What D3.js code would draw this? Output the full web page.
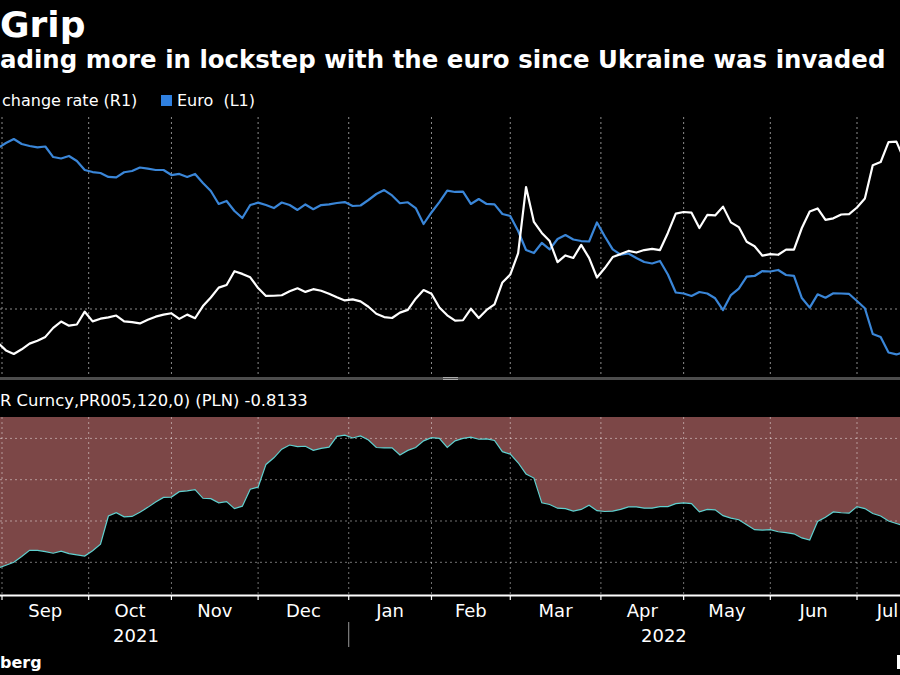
<!DOCTYPE html>
<html><head><meta charset="utf-8">
<script src="https://cdn.jsdelivr.net/npm/d3@7/dist/d3.min.js"></script>
<style>html,body{margin:0;padding:0;background:#000;overflow:hidden;} svg{display:block;}</style>
</head><body>
<svg id="chart" width="900" height="675"></svg>
<script>
// ---- data (every second trading day, from 2021-08-31 to 2022-07-19) ----
const firstDate = "2021-08-31";
const lastDate = "2022-07-19";
const euro = [1.1833,1.1875,1.1908,1.1867,1.1850,1.1838,1.1846,1.1758,1.1746,1.1767,
1.1725,1.1650,1.1633,1.1625,1.1592,1.1588,1.1631,1.1642,1.1671,1.1661,
1.1650,1.1650,1.1608,1.1617,1.1592,1.1617,1.1542,1.1475,1.1367,1.1392,
1.1308,1.1250,1.1358,1.1378,1.1358,1.1333,1.1379,1.1358,1.1317,1.1363,
1.1323,1.1358,1.1364,1.1375,1.1383,1.1350,1.1354,1.1400,1.1450,1.1483,
1.1438,1.1373,1.1381,1.1333,1.1200,1.1296,1.1383,1.1478,1.1467,1.1469,
1.1367,1.1408,1.1367,1.1364,1.1283,1.1267,1.1142,1.0983,1.0958,1.1042,
1.0988,1.1075,1.1108,1.1071,1.1058,1.1054,1.1213,1.1096,1.0988,1.0945,
1.0954,1.0917,1.0883,1.0871,1.0892,1.0779,1.0629,1.0621,1.0600,1.0633,
1.0621,1.0581,1.0483,1.0608,1.0661,1.0761,1.0767,1.0808,1.0804,1.0817,
1.0775,1.0767,1.0583,1.0503,1.0614,1.0586,1.0623,1.0621,1.0617,1.0558,
1.0498,1.0283,1.0258,1.0129,1.0113,1.0133];
const exchangeRate = [3.849,3.816,3.800,3.821,3.846,3.859,3.876,3.916,3.944,3.926,
3.931,3.988,3.945,3.957,3.963,3.971,3.945,3.942,3.936,3.952,
3.966,3.975,3.981,3.956,3.975,3.959,4.013,4.051,4.095,4.107,
4.168,4.156,4.141,4.093,4.058,4.059,4.061,4.079,4.092,4.076,
4.088,4.081,4.068,4.052,4.038,4.043,4.034,4.010,3.979,3.964,
3.960,3.984,3.996,4.046,4.084,4.068,4.007,3.972,3.948,3.950,
4.001,3.960,3.996,4.021,4.118,4.153,4.248,4.542,4.387,4.338,
4.302,4.208,4.238,4.227,4.285,4.227,4.140,4.182,4.231,4.244,
4.258,4.251,4.262,4.267,4.262,4.338,4.424,4.431,4.428,4.360,
4.418,4.416,4.455,4.385,4.364,4.299,4.279,4.237,4.244,4.241,
4.264,4.264,4.360,4.433,4.447,4.396,4.403,4.420,4.422,4.451,
4.491,4.639,4.653,4.742,4.744,4.662];
const correlation = [-0.914,-0.907,-0.900,-0.886,-0.871,-0.871,-0.874,-0.878,-0.873,-0.879,
-0.882,-0.885,-0.872,-0.856,-0.788,-0.780,-0.790,-0.789,-0.779,-0.767,
-0.754,-0.743,-0.742,-0.729,-0.727,-0.724,-0.745,-0.746,-0.756,-0.753,
-0.770,-0.764,-0.723,-0.718,-0.663,-0.647,-0.626,-0.616,-0.620,-0.619,
-0.629,-0.624,-0.621,-0.595,-0.592,-0.599,-0.594,-0.604,-0.622,-0.623,
-0.623,-0.640,-0.629,-0.622,-0.606,-0.598,-0.600,-0.622,-0.606,-0.600,
-0.597,-0.602,-0.601,-0.605,-0.632,-0.638,-0.659,-0.686,-0.696,-0.756,
-0.760,-0.769,-0.770,-0.776,-0.772,-0.762,-0.775,-0.777,-0.776,-0.772,
-0.766,-0.766,-0.769,-0.769,-0.765,-0.765,-0.758,-0.756,-0.758,-0.778,
-0.772,-0.773,-0.787,-0.793,-0.797,-0.809,-0.821,-0.822,-0.821,-0.826,
-0.828,-0.831,-0.841,-0.846,-0.801,-0.791,-0.778,-0.780,-0.781,-0.765,
-0.770,-0.782,-0.788,-0.800,-0.806,-0.812];
const yearLabels = ["2021", "2022"];
const corrGridValues = [-0.6, -0.7, -0.8, -0.9];
const rateGridValues = [4.0];
const titleText = "Grip";
const subtitleText = "ading more in lockstep with the euro since Ukraine was invaded";
const legendRate = "change rate (R1)";
const legendEuro = "Euro\u00a0\u00a0(L1)";
const corrLabel = "R Curncy,PR005,120,0) (PLN) -0.8133";
const sourceText = "berg";

// ---- scales ----
const parse = d3.timeParse("%Y-%m-%d");
const isWeekday = d => d.getDay() !== 0 && d.getDay() !== 6;
const origin = new Date(2021, 8, 1);
function bizIndex(d) {
  return d >= origin ? d3.timeDays(origin, d).filter(isWeekday).length
                     : -d3.timeDays(d, origin).filter(isWeekday).length;
}
const dates = d3.timeDays(parse(firstDate), d3.timeDay.offset(parse(lastDate), 1))
  .filter(isWeekday).filter((d, i) => i % 2 === 0);
const rows = dates.map((d, i) => ({date: d, eur: euro[i], rate: exchangeRate[i], corr: correlation[i]}));

const x = d3.scaleLinear().domain([0, bizIndex(new Date(2022, 6, 1))]).range([2, 857]);
const X = d => x(bizIndex(d));
const yL = d3.scaleLinear().domain([1.00, 1.20]).range([368, 128]);
const yR = d3.scaleLinear().domain([3.80, 4.80]).range([354, 129]);
const yC = d3.scaleLinear().domain([-0.9, -0.6]).range([562.3, 438.4]);

const svg = d3.select("#chart");
const W = 900;
svg.append("rect").attr("width", W).attr("height", 675).attr("fill", "#000");

const font = "'DejaVu Sans', Verdana, sans-serif";
const defs = svg.append("defs");
defs.append("clipPath").attr("id", "clipTop").append("rect").attr("x", 0).attr("y", 117).attr("width", W).attr("height", 260);
defs.append("clipPath").attr("id", "clipBot").append("rect").attr("x", 0).attr("y", 417).attr("width", W).attr("height", 178);

// ---- titles ----
svg.append("text").attr("x", 0).attr("y", 37).attr("fill", "#fff")
  .attr("font-family", font).attr("font-weight", "bold").attr("font-size", 36).text(titleText);
const sub = svg.append("text").attr("x", 0).attr("y", 68).attr("fill", "#fff")
  .attr("font-family", font).attr("font-weight", "bold").attr("font-size", 24).text(subtitleText);
const subW = sub.node().getComputedTextLength();
sub.attr("font-size", 24 * 886 / subW);

// legend
svg.append("text").attr("x", 2).attr("y", 106).attr("fill", "#fff").attr("font-family", font)
  .attr("font-size", 16).text(legendRate);
svg.append("rect").attr("x", 161).attr("y", 95).attr("width", 11).attr("height", 11).attr("fill", "#2f80e0");
svg.append("text").attr("x", 177).attr("y", 106).attr("fill", "#fff").attr("font-family", font)
  .attr("font-size", 16).text(legendEuro);

// ---- month grid ----
const months = d3.timeMonth.range(new Date(2021, 8, 1), new Date(2022, 7, 2));
const gridColor = "#8c8c8c";
const topG = svg.append("g");
topG.selectAll("line.v").data(months).join("line")
  .attr("x1", d => X(d)).attr("x2", d => X(d)).attr("y1", 117).attr("y2", 376)
  .attr("stroke", gridColor).attr("stroke-width", 1).attr("stroke-dasharray", "2,3");
topG.selectAll("line.h").data(rateGridValues).join("line")
  .attr("x1", 0).attr("x2", W).attr("y1", d => yR(d)).attr("y2", d => yR(d))
  .attr("stroke", gridColor).attr("stroke-width", 1).attr("stroke-dasharray", "2,3");

const lineTop = svg.append("g").attr("clip-path", "url(#clipTop)");
lineTop.append("path").datum(rows)
  .attr("d", d3.line().x(d => X(d.date)).y(d => yL(d.eur)))
  .attr("fill", "none").attr("stroke", "#3a86d8").attr("stroke-width", 2.2).attr("stroke-linejoin", "round");
lineTop.append("path").datum(rows)
  .attr("d", d3.line().x(d => X(d.date)).y(d => yR(d.rate)))
  .attr("fill", "none").attr("stroke", "#ffffff").attr("stroke-width", 2.2).attr("stroke-linejoin", "round");

// separator
svg.append("rect").attr("x", 0).attr("y", 377).attr("width", W).attr("height", 3).attr("fill", "#4d4d4d");
svg.append("line").attr("x1", 443).attr("x2", 458).attr("y1", 377.5).attr("y2", 377.5).attr("stroke", "#aaa").attr("stroke-width", 1);
svg.append("line").attr("x1", 443).attr("x2", 458).attr("y1", 379.5).attr("y2", 379.5).attr("stroke", "#aaa").attr("stroke-width", 1);

// ---- correlation panel ----
const cl = svg.append("text").attr("x", 0).attr("y", 406).attr("fill", "#fff").attr("font-family", font)
  .attr("font-size", 16).text(corrLabel);
const clW = cl.node().getComputedTextLength();
cl.attr("font-size", 16 * 308 / clW);

const bot = svg.append("g").attr("clip-path", "url(#clipBot)");
bot.append("path").datum(rows)
  .attr("d", d3.area().x(d => X(d.date)).y0(417).y1(d => yC(d.corr)))
  .attr("fill", "#7c4747");
bot.selectAll("line.v").data(months).join("line")
  .attr("x1", d => X(d)).attr("x2", d => X(d)).attr("y1", 417).attr("y2", 595)
  .attr("stroke", "rgba(255,255,255,0.45)").attr("stroke-width", 1).attr("stroke-dasharray", "2,3");
bot.selectAll("line.h").data(corrGridValues).join("line")
  .attr("x1", 0).attr("x2", W).attr("y1", d => yC(d)).attr("y2", d => yC(d))
  .attr("stroke", "rgba(255,255,255,0.45)").attr("stroke-width", 1).attr("stroke-dasharray", "2,3");
bot.append("path").datum(rows)
  .attr("d", d3.line().x(d => X(d.date)).y(d => yC(d.corr)))
  .attr("fill", "none").attr("stroke", "#5fd0cf").attr("stroke-width", 1.2);

// ---- x axis ----
svg.append("line").attr("x1", 0).attr("x2", W).attr("y1", 595.5).attr("y2", 595.5).attr("stroke", "#fff").attr("stroke-width", 2);
svg.selectAll("line.tick").data(months).join("line")
  .attr("x1", d => X(d)).attr("x2", d => X(d)).attr("y1", 595).attr("y2", 600)
  .attr("stroke", "#fff").attr("stroke-width", 1.2);
const fmt = d3.timeFormat("%b");
const monthLabelX = (d, i) => Math.min((X(d) + X(months[i + 1])) / 2, W - 1);
svg.selectAll("text.month").data(months.slice(0, -1)).join("text")
  .attr("x", monthLabelX).attr("y", 617)
  .attr("text-anchor", (d, i) => (X(d) + X(months[i + 1])) / 2 > W - 20 ? "end" : "middle")
  .attr("fill", "#fff").attr("font-family", font).attr("font-size", 18)
  .text(d => fmt(d));
const yearPos = [X(new Date(2021, 9, 19)), X(new Date(2022, 3, 25))];
svg.selectAll("text.year").data(yearLabels).join("text")
  .attr("x", (d, i) => yearPos[i]).attr("y", 642)
  .attr("text-anchor", "middle").attr("fill", "#fff").attr("font-family", font).attr("font-size", 18)
  .text(d => d);
const jan = X(new Date(2022, 0, 1));
svg.append("line").attr("x1", jan).attr("x2", jan).attr("y1", 622).attr("y2", 647).attr("stroke", "#999").attr("stroke-width", 1);

// footer
svg.append("text").attr("x", 0).attr("y", 668).attr("fill", "#fff").attr("font-family", font)
  .attr("font-weight", "bold").attr("font-size", 16).text(sourceText);
svg.append("rect").attr("x", 897).attr("y", 655).attr("width", 3).attr("height", 14).attr("fill", "#fff");
</script>
</body></html>
